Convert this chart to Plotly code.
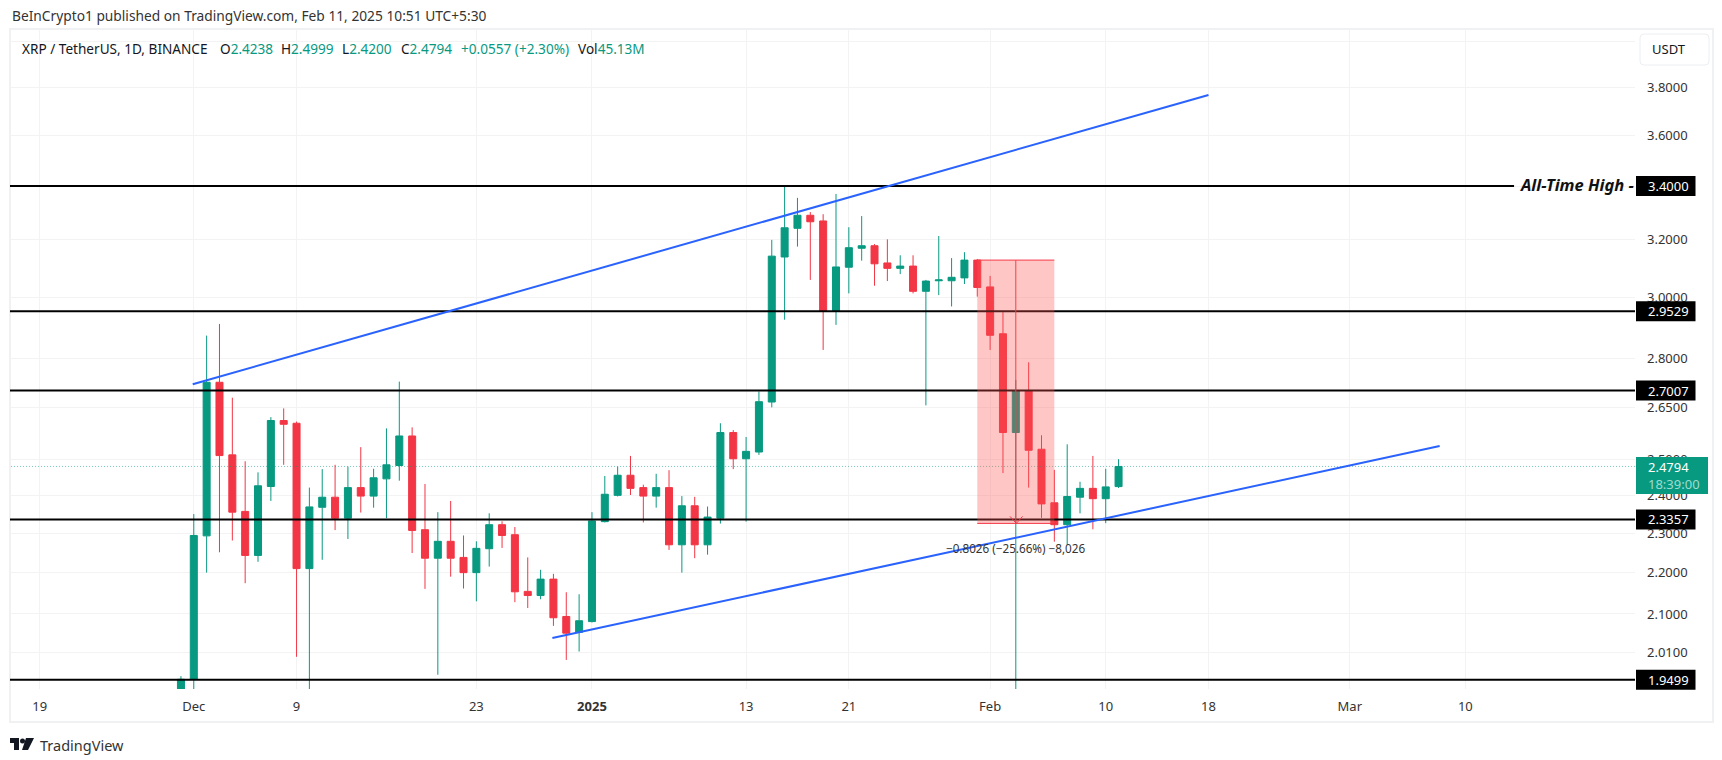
import numpy as np
import pandas as pd
import plotly.graph_objects as go

# daily candles 2024-11-30 .. 2025-02-11
days = pd.date_range('2024-11-30', '2025-02-11', freq='D')
opens = [1.900, 1.951, 2.293, 2.726, 2.512, 2.357, 2.243, 2.424, 2.611, 2.603,
         2.210, 2.368, 2.395, 2.339, 2.421, 2.398, 2.445, 2.482, 2.566, 2.309,
         2.236, 2.279, 2.238, 2.200, 2.260, 2.322, 2.296, 2.154, 2.144, 2.184,
         2.094, 2.057, 2.082, 2.330, 2.400, 2.455, 2.421, 2.398, 2.421, 2.270,
         2.372, 2.270, 2.339, 2.576, 2.501, 2.520, 2.666, 3.139, 3.242, 3.290,
         3.269, 2.954, 3.103, 3.170, 3.179, 3.118, 3.099, 3.107, 3.020, 3.056,
         3.056, 3.066, 3.128, 3.035, 2.879, 2.576, 2.700, 2.528, 2.380, 2.322,
         2.395, 2.419, 2.391, 2.4238]
highs = [1.958, 2.350, 2.873, 2.911, 2.679, 2.494, 2.463, 2.621, 2.647, 2.608,
         2.421, 2.472, 2.484, 2.479, 2.534, 2.473, 2.588, 2.728, 2.591, 2.431,
         2.355, 2.385, 2.294, 2.279, 2.352, 2.331, 2.316, 2.238, 2.207, 2.197,
         2.152, 2.147, 2.355, 2.453, 2.479, 2.509, 2.429, 2.459, 2.469, 2.398,
         2.396, 2.370, 2.603, 2.583, 2.563, 2.698, 3.200, 3.398, 3.355, 3.302,
         3.294, 3.370, 3.246, 3.287, 3.185, 3.202, 3.145, 3.145, 3.059, 3.214,
         3.135, 3.156, 3.132, 3.073, 2.950, 2.733, 2.788, 2.568, 2.470, 2.542,
         2.437, 2.509, 2.473, 2.4999]
lows = [1.880, 1.900, 2.200, 2.251, 2.281, 2.174, 2.227, 2.385, 2.484, 2.001,
        1.910, 2.232, 2.308, 2.285, 2.354, 2.367, 2.339, 2.440, 2.249, 2.160,
        1.961, 2.190, 2.161, 2.130, 2.215, 2.262, 2.128, 2.114, 2.135, 2.072,
        1.994, 2.013, 2.080, 2.328, 2.397, 2.401, 2.328, 2.367, 2.257, 2.200,
        2.236, 2.245, 2.325, 2.472, 2.330, 2.512, 2.650, 2.925, 3.176, 3.059,
        2.827, 2.908, 3.013, 3.126, 3.039, 3.055, 3.079, 3.013, 2.656, 3.007,
        2.969, 3.045, 3.002, 2.827, 2.461, 1.770, 2.421, 2.340, 2.278, 2.270,
        2.352, 2.310, 2.326, 2.4200]
closes = [1.951, 2.294, 2.726, 2.510, 2.355, 2.243, 2.426, 2.611, 2.600, 2.210,
          2.369, 2.395, 2.339, 2.421, 2.398, 2.448, 2.484, 2.566, 2.307, 2.236,
          2.279, 2.236, 2.200, 2.261, 2.322, 2.294, 2.153, 2.144, 2.184, 2.091,
          2.055, 2.084, 2.332, 2.403, 2.455, 2.419, 2.398, 2.421, 2.270, 2.372,
          2.270, 2.342, 2.576, 2.501, 2.522, 2.667, 3.142, 3.244, 3.290, 3.266,
          2.954, 3.104, 3.172, 3.179, 3.115, 3.099, 3.107, 3.020, 3.055, 3.059,
          3.068, 3.128, 3.033, 2.874, 2.576, 2.700, 2.525, 2.377, 2.322, 2.397,
          2.419, 2.391, 2.423, 2.4794]

levels = [3.4000, 2.9529, 2.7007, 2.3357, 1.9499]
level_ends = ['2025-03-13 19:00', '2025-03-23 05:00', '2025-03-23 05:00', '2025-03-23 05:00', '2025-03-23 05:00']
last_price = 2.4794

upper_x = ['2024-11-30 22:00', '2025-02-18']
upper_y = [2.720, 3.767]
lower_x = ['2024-12-28 22:00', '2025-03-08']
lower_y = [2.044, 2.537]

measure_x = ['2025-01-31', '2025-02-06']
measure_mid = '2025-02-03'
measure_y = [3.128, 2.3254]

# 3.4000 has its own black label, so the tick only draws the grid line
price_ticks = [4.0, 3.8, 3.6, 3.4, 3.2, 3.0, 2.8, 2.65, 2.5, 2.4, 2.3, 2.2, 2.1, 2.01]
price_labels = ['', '3.8000', '3.6000', '', '3.2000', '3.0000', '2.8000', '2.6500',
                '2.5000', '2.4000', '2.3000', '2.2000', '2.1000', '2.0100']
time_ticks = ['2024-11-19', '2024-12-01', '2024-12-09', '2024-12-23', '2025-01-01', '2025-01-13',
              '2025-01-21', '2025-02-01', '2025-02-10', '2025-02-18', '2025-03-01', '2025-03-10']
time_labels = ['19', 'Dec', '9', '23', '<b>2025</b>', '13', '21', 'Feb', '10', '18', 'Mar', '10']

GREEN = '#089981'
RED = '#F23645'
BLUE = '#2962FF'
GRID = '#f3f3f4'
TEXT = '#131722'
FONT = 'Noto Sans'
Y_RANGE = [0.28551, 0.60829]


# page pixels to paper fractions
def px(x):
    return (x - 10) / 1625


def py(y):
    return (689 - y) / 660


# price to paper fraction on the log axis
def price_frac(price):
    return (np.log10(price) - Y_RANGE[0]) / (Y_RANGE[1] - Y_RANGE[0])


fig = go.Figure()

for level, end in zip(levels, level_ends):
    fig.add_trace(go.Scatter(x=['2024-11-10', end], y=[level, level], mode='lines',
                             line=dict(color='black', width=2), hoverinfo='skip'))

fig.add_trace(go.Scatter(x=['2024-11-10', '2025-03-23 05:00'], y=[last_price, last_price], mode='lines',
                         line=dict(color=GREEN, width=1, dash='1px 2px'), opacity=0.55, hoverinfo='skip'))

fig.add_trace(go.Candlestick(
    x=days, open=opens, high=highs, low=lows, close=closes,
    increasing=dict(line=dict(color=GREEN, width=1), fillcolor=GREEN),
    decreasing=dict(line=dict(color=RED, width=1), fillcolor=RED),
    whiskerwidth=0))

fig.add_trace(go.Scatter(x=upper_x, y=upper_y, mode='lines', line=dict(color=BLUE, width=2), hoverinfo='skip'))
fig.add_trace(go.Scatter(x=lower_x, y=lower_y, mode='lines', line=dict(color=BLUE, width=2), hoverinfo='skip'))

# measure tool on top of the candles
fig.add_shape(type='rect', xref='x', yref='y', x0=measure_x[0], x1=measure_x[1],
              y0=measure_y[0], y1=measure_y[1], fillcolor='rgba(255,82,82,0.33)',
              line_width=0, layer='above')
fig.add_trace(go.Scatter(x=measure_x, y=[measure_y[0], measure_y[0]], mode='lines',
                         line=dict(color=RED, width=1), hoverinfo='skip'))
fig.add_trace(go.Scatter(x=measure_x, y=[measure_y[1], measure_y[1]], mode='lines',
                         line=dict(color=RED, width=1), hoverinfo='skip'))
fig.add_trace(go.Scatter(x=[measure_mid, measure_mid], y=measure_y, mode='lines',
                         line=dict(color=RED, width=1), hoverinfo='skip'))
arrow_tip = price_frac(measure_y[1])
fig.add_shape(type='path', xref='paper', yref='paper', layer='above',
              path=f'M {px(1010)} {arrow_tip + 7 / 660} L {px(1016.3)} {arrow_tip} L {px(1022.6)} {arrow_tip + 7 / 660}',
              line=dict(color=RED, width=1))

annotations = []


def note(x, y, text, size=13, color=TEXT, anchor='left', font=FONT):
    annotations.append(dict(xref='paper', yref='paper', x=px(x), y=py(y), text=text, showarrow=False,
                            xanchor=anchor, yanchor='middle', align='left',
                            font=dict(family=font, size=size, color=color)))


note(10, 16, 'BeInCrypto1 published on TradingView.com, Feb 11, 2025 10:51 UTC+5:30', size=13.75, color='#333333')

note(20, 48, 'XRP / TetherUS, 1D, BINANCE', size=13.6)
ohlc_parts = [(218, 'O', '2.4238'), (279, 'H', '2.4999'), (340, 'L', '2.4200'), (399, 'C', '2.4794')]
for x, key, value in ohlc_parts:
    note(x, 48, f'{key}<span style="color:{GREEN}">{value}</span>', size=13.6)
note(459, 48, '+0.0557 (+2.30%)', size=13.6, color=GREEN)
note(576, 48, f'Vol<span style="color:{GREEN}">45.13M</span>', size=13.6)

note(1015, 548, '−0.8026 (−25.66%) −8,026', size=11.7, color='#333333', anchor='center')
note(1636, 185, '<b><i>All-Time High -</i></b>', size=16.5, color='#111111', anchor='right')

# USDT button and frame
shapes = [
    dict(type='rect', xref='paper', yref='paper', x0=px(10), x1=px(1713), y0=py(29), y1=py(722),
         line=dict(color='#f0f1f3', width=2), layer='below'),
    dict(type='path', xref='paper', yref='paper', layer='above',
         path=f'M {px(1644)} {py(34)} L {px(1705)} {py(34)} Q {px(1709)} {py(34)} {px(1709)} {py(38)} '
              f'L {px(1709)} {py(61)} Q {px(1709)} {py(65)} {px(1705)} {py(65)} L {px(1644)} {py(65)} '
              f'Q {px(1640)} {py(65)} {px(1640)} {py(61)} L {px(1640)} {py(38)} Q {px(1640)} {py(34)} {px(1644)} {py(34)} Z',
         line=dict(color='#eceef2', width=1), fillcolor='white'),
]
note(1650, 49, 'USDT', size=13)

for level in levels:
    shapes.append(dict(type='rect', xref='paper', yref='paper',
                       x0=px(1636), x1=px(1695.5), y0=price_frac(level) - 10 / 660, y1=price_frac(level) + 10 / 660,
                       fillcolor='black', line_width=0, layer='above'))
    annotations.append(dict(xref='paper', yref='paper', x=px(1646), y=price_frac(level), text=f'{level:.4f}',
                            showarrow=False, xanchor='left', yanchor='middle',
                            font=dict(family=FONT, size=13, color='white')))

shapes.append(dict(type='rect', xref='paper', yref='paper', x0=px(1636), x1=px(1708), y0=py(457), y1=py(494),
                   fillcolor=GREEN, line_width=0, layer='above'))
note(1646, 467, f'{last_price:.4f}', size=13, color='white')
note(1646, 484, '18:39:00', size=13, color='#9fdccf')

# TradingView footer mark
shapes.append(dict(type='path', xref='paper', yref='paper', layer='above', line_width=0, fillcolor='#131722',
                   path=f'M {px(10)} {py(738)} L {px(19)} {py(738)} L {px(19)} {py(750)} L {px(14)} {py(750)} '
                        f'L {px(14)} {py(743)} L {px(10)} {py(743)} Z '
                        f'M {px(26)} {py(738)} L {px(34)} {py(738)} L {px(28)} {py(750)} L {px(22)} {py(750)} Z'))
shapes.append(dict(type='circle', xref='paper', yref='paper', layer='above', line_width=0, fillcolor='#131722',
                   x0=px(20), x1=px(25), y0=py(743.5), y1=py(738.5)))
note(38, 745, 'TradingView', size=14.5, color='#333333')

for s in shapes:
    fig.add_shape(**s)

fig.update_layout(
    width=1722, height=760,
    margin=dict(l=10, r=87, t=29, b=71, autoexpand=False),
    paper_bgcolor='white', plot_bgcolor='white',
    showlegend=False,
    annotations=annotations,
    boxgap=0.22,
    font=dict(family=FONT, size=13, color=TEXT),
    xaxis=dict(type='date', range=['2024-11-16 16:34', '2025-03-23 05:00'], rangeslider=dict(visible=False),
               tickmode='array', tickvals=time_ticks, ticktext=time_labels,
               showgrid=True, gridcolor=GRID, gridwidth=1, zeroline=False, showline=False,
               ticks='', ticklabelstandoff=8, tickfont=dict(family=FONT, size=13, color='#333333')),
    yaxis=dict(type='log', side='right', range=Y_RANGE,
               tickmode='array', tickvals=price_ticks, ticktext=price_labels,
               showgrid=True, gridcolor=GRID, gridwidth=1, zeroline=False, showline=False,
               ticks='', ticklabelstandoff=11, tickfont=dict(family=FONT, size=13, color='#333333')),
)

fig.write_html("out.html", post_script="document.body.style.margin='0'", config=dict(displayModeBar=False))
